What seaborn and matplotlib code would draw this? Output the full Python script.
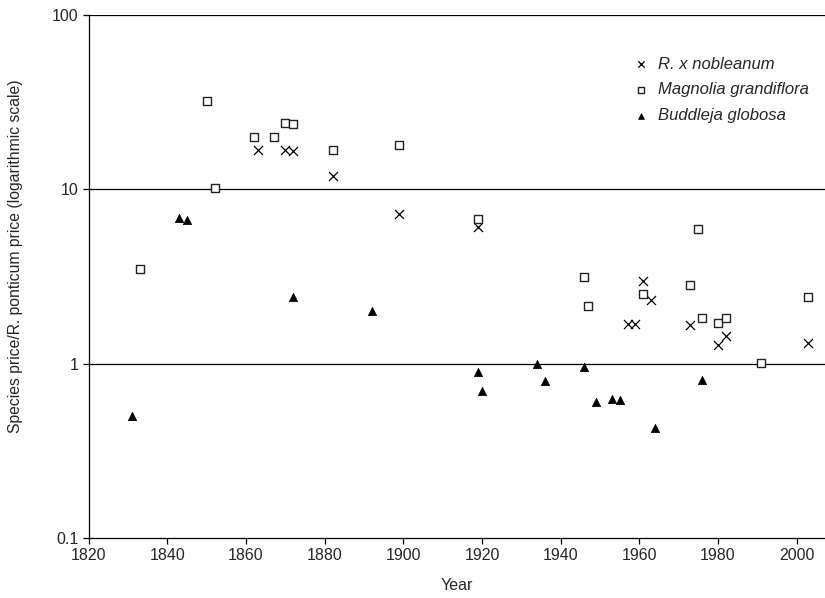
"""Relative price of three ornamental species against R. ponticum, 1830-2003."""
import matplotlib
matplotlib.use("Agg")
import matplotlib.pyplot as plt
import numpy as np
import pandas as pd
import seaborn as sns
from matplotlib.ticker import FixedLocator, FuncFormatter, NullLocator

# ----- data -------------------------------------------------------------
NOBLE_YEARS = [1863, 1870, 1872, 1882, 1899, 1919, 1957, 1959, 1961, 1963,
               1973, 1980, 1982, 2003]
NOBLE_RATIO = [16.7, 16.8, 16.6, 11.9, 7.2, 6.1, 1.68, 1.68, 2.97, 2.3,
               1.66, 1.27, 1.43, 1.32]

MAGNOLIA_YEARS = [1833, 1850, 1852, 1862, 1867, 1870, 1872, 1882, 1899, 1919,
                  1946, 1947, 1961, 1973, 1975, 1976, 1980, 1982, 1991, 2003]
MAGNOLIA_RATIO = [3.5, 32.0, 10.1, 20.0, 20.0, 24.0, 23.5, 16.8, 18.0, 6.7,
                  3.15, 2.13, 2.5, 2.82, 5.9, 1.82, 1.71, 1.82, 1.01, 2.4]

BUDDLEJA_YEARS = [1831, 1843, 1845, 1872, 1892, 1919, 1920, 1934, 1936, 1946,
                  1949, 1953, 1955, 1964, 1976]
BUDDLEJA_RATIO = [0.5, 6.8, 6.65, 2.4, 2.0, 0.89, 0.7, 1.0, 0.79, 0.95,
                  0.6, 0.63, 0.62, 0.43, 0.8]

Y_TICKS = [0.1, 1, 10, 100]
X_TICKS = list(range(1820, 2001, 20))

sns.set_style("ticks")
plt.rcParams["font.family"] = ["Liberation Sans", "DejaVu Sans"]

df = pd.concat([
    pd.DataFrame({"year": NOBLE_YEARS, "ratio": NOBLE_RATIO,
                  "species": "R. x nobleanum"}),
    pd.DataFrame({"year": MAGNOLIA_YEARS, "ratio": MAGNOLIA_RATIO,
                  "species": "Magnolia grandiflora"}),
    pd.DataFrame({"year": BUDDLEJA_YEARS, "ratio": BUDDLEJA_RATIO,
                  "species": "Buddleja globosa"}),
], ignore_index=True)

fig = plt.figure(figsize=(8.25, 5.98), dpi=100)
ax = fig.add_axes([0.1075, 0.1003, 0.8925, 0.8751])

styles = {
    "R. x nobleanum": dict(marker="x", s=42, color="black", linewidth=0.9),
    "Magnolia grandiflora": dict(marker="s", s=36, facecolor="white",
                                 edgecolor="#222", linewidth=1.0),
    "Buddleja globosa": dict(marker="^", s=36, color="black",
                             edgecolor="black", linewidth=0.5),
}
for name, kw in styles.items():
    sub = df[df["species"] == name]
    sns.scatterplot(data=sub, x="year", y="ratio", ax=ax, label=name,
                    zorder=3, **kw)

ax.set_yscale("log")
ax.set_ylim(0.1, 100)
ax.set_xlim(1820, 2007.2)
ax.yaxis.set_major_locator(FixedLocator(Y_TICKS))
ax.yaxis.set_minor_locator(NullLocator())
ax.yaxis.set_major_formatter(FuncFormatter(lambda v, _: f"{v:g}"))
ax.xaxis.set_major_locator(FixedLocator(X_TICKS))

for v in (1, 10, 100):
    ax.axhline(v, color="black", lw=0.9, zorder=1)

for side in ("top", "right"):
    ax.spines[side].set_visible(False)
for side in ("left", "bottom"):
    ax.spines[side].set_color("black")
    ax.spines[side].set_linewidth(0.9)
ax.tick_params(axis="both", direction="out", length=4.3, width=0.9,
               color="black", labelsize=11.5)
ax.tick_params(axis="x", pad=3)
ax.tick_params(axis="y", pad=3)

ax.set_xlabel("Year", fontsize=11.5, labelpad=11)
ax.set_ylabel("Species price/R. ponticum price (logarithmic scale)",
              fontsize=11.3)
ax.yaxis.set_label_coords(-0.089, 0.539)

leg = ax.legend(loc="upper left", bbox_to_anchor=(0.728, 0.936),
                frameon=False, fontsize=12, markerscale=0.7,
                handlelength=1.0, handletextpad=0.5, labelspacing=0.65,
                borderpad=0)
for t in leg.get_texts():
    t.set_fontstyle("italic")

fig.savefig("out.png", dpi=100)
